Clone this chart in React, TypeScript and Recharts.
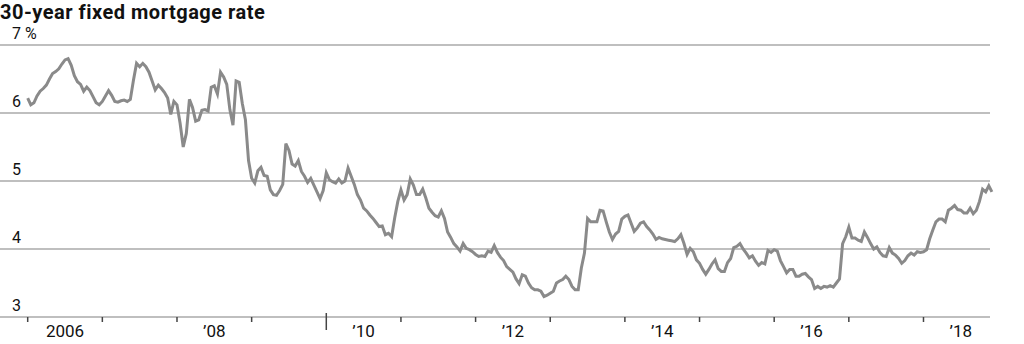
import { LineChart, Line, XAxis, YAxis, CartesianGrid } from "recharts";

// Freddie Mac 30-year fixed rate at two points per month
const years = [2006, 2007, 2008, 2009, 2010, 2011, 2012, 2013, 2014, 2015, 2016, 2017, 2018];

const rates2006 = [6.22, 6.12, 6.15, 6.25, 6.32, 6.36, 6.41, 6.5, 6.58, 6.61, 6.65, 6.72, 6.78, 6.8, 6.7, 6.55, 6.46, 6.42, 6.32, 6.38, 6.33, 6.24, 6.15, 6.12];
const rates2007 = [6.17, 6.25, 6.33, 6.26, 6.17, 6.16, 6.18, 6.19, 6.17, 6.2, 6.48, 6.73, 6.68, 6.73, 6.68, 6.6, 6.47, 6.34, 6.41, 6.36, 6.3, 6.22, 5.98, 6.17];
const rates2008 = [6.12, 5.85, 5.5, 5.7, 6.2, 6.08, 5.88, 5.9, 6.04, 6.05, 6.03, 6.38, 6.4, 6.28, 6.6, 6.53, 6.42, 6.05, 5.82, 6.47, 6.45, 6.14, 5.9, 5.3];
const rates2009 = [5.04, 4.97, 5.15, 5.2, 5.08, 5.07, 4.87, 4.8, 4.79, 4.86, 4.95, 5.55, 5.45, 5.25, 5.22, 5.3, 5.14, 5.07, 4.98, 5.04, 4.94, 4.84, 4.74, 4.86];
const rates2010 = [5.12, 5.02, 4.99, 4.97, 5.03, 4.97, 5.0, 5.19, 5.07, 4.95, 4.8, 4.72, 4.6, 4.56, 4.5, 4.45, 4.39, 4.33, 4.34, 4.21, 4.23, 4.18, 4.46, 4.7];
const rates2011 = [4.87, 4.72, 4.8, 5.03, 4.94, 4.8, 4.8, 4.88, 4.75, 4.6, 4.54, 4.49, 4.47, 4.56, 4.45, 4.25, 4.17, 4.08, 4.03, 3.97, 4.08, 4.01, 3.99, 3.96];
const rates2012 = [3.92, 3.89, 3.9, 3.89, 3.97, 3.95, 4.05, 3.95, 3.88, 3.83, 3.74, 3.7, 3.66, 3.56, 3.49, 3.62, 3.6, 3.5, 3.43, 3.4, 3.4, 3.38, 3.3, 3.32];
const rates2013 = [3.35, 3.38, 3.5, 3.53, 3.55, 3.6, 3.55, 3.45, 3.4, 3.4, 3.72, 3.94, 4.45, 4.4, 4.4, 4.4, 4.57, 4.56, 4.4, 4.25, 4.14, 4.22, 4.26, 4.44];
const rates2014 = [4.48, 4.5, 4.38, 4.26, 4.31, 4.38, 4.4, 4.33, 4.28, 4.22, 4.14, 4.17, 4.15, 4.14, 4.13, 4.12, 4.11, 4.15, 4.21, 4.08, 3.92, 4.01, 3.96, 3.84];
const rates2015 = [3.79, 3.7, 3.63, 3.7, 3.78, 3.84, 3.71, 3.67, 3.67, 3.8, 3.86, 4.02, 4.04, 4.08, 4.0, 3.94, 3.87, 3.9, 3.82, 3.76, 3.8, 3.78, 3.98, 3.95];
const rates2016 = [3.99, 3.97, 3.83, 3.74, 3.65, 3.7, 3.7, 3.6, 3.6, 3.63, 3.64, 3.59, 3.55, 3.42, 3.45, 3.42, 3.45, 3.44, 3.46, 3.44, 3.5, 3.56, 4.08, 4.18];
const rates2017 = [4.32, 4.16, 4.16, 4.13, 4.11, 4.25, 4.17, 4.08, 4.0, 4.03, 3.95, 3.9, 3.89, 4.02, 3.94, 3.91, 3.86, 3.79, 3.83, 3.9, 3.94, 3.91, 3.96, 3.95];
const rates2018 = [3.96, 3.99, 4.15, 4.28, 4.4, 4.44, 4.44, 4.4, 4.57, 4.6, 4.64, 4.58, 4.57, 4.53, 4.53, 4.6, 4.52, 4.57, 4.7, 4.88, 4.84, 4.93, 4.84];

const yearTicks = [2006, 2007, 2008, 2009, 2010, 2011, 2012, 2013, 2014, 2015, 2016, 2017, 2018];
const labelYears = [2006, 2008, 2010, 2012, 2014, 2016, 2018];
const labelTexts = ["2006", "\u201908", "\u201910", "\u201912", "\u201914", "\u201916", "\u201918"];
const rateTicks = [3, 4, 5, 6, 7];

const ratesByYear = [rates2006, rates2007, rates2008, rates2009, rates2010, rates2011, rates2012, rates2013, rates2014, rates2015, rates2016, rates2017, rates2018];

const data = years.flatMap((yr, k) =>
  ratesByYear[k].map((v, i) => ({ t: yr + i / 24, rate: v }))
);

const xTicks = [...yearTicks, ...labelYears.map((y) => y + 0.5)].sort((a, b) => a - b);

const font = "Roboto, 'Liberation Sans', sans-serif";

const XTick = ({ x, y, payload }: any) => {
  const v = payload.value;
  if (Number.isInteger(v)) {
    const long = v === 2010;
    return (
      <line
        x1={x}
        x2={x}
        y1={long ? y - 4 : y}
        y2={long ? y + 13 : y + 5}
        stroke="#444"
        strokeWidth={1.5}
      />
    );
  }
  const idx = labelYears.indexOf(v - 0.5);
  return (
    <text x={x} y={y + 20} textAnchor="middle" fontSize={17} fontFamily={font} fill="#111">
      {labelTexts[idx]}
    </text>
  );
};

const YTick = (props: any) => {
  const { y, payload } = props;
  return (
    <text x={12} y={y - 6} fontSize={16} fontFamily={font} fill="#111">
      {payload.value === 7 ? "7 %" : String(payload.value)}
    </text>
  );
};

const gridLine = (props: any) => (
  <line
    key={`g-${props.y1}`}
    x1={props.x1}
    x2={props.x1 + 990}
    y1={props.y1}
    y2={props.y2}
    stroke="#aaa"
    strokeWidth={1.5}
  />
);

export default function App() {
  return (
    <div
      style={{
        position: "absolute",
        left: 0,
        top: 0,
        width: 1024,
        height: 344,
        background: "#fff",
        overflow: "hidden",
      }}
    >
      <div
        style={{
          position: "absolute",
          left: 0,
          top: 0,
          fontFamily: font,
          fontWeight: 700,
          fontSize: 20,
          lineHeight: "normal",
          color: "#111",
          letterSpacing: 0.5,
          whiteSpace: "nowrap",
        }}
      >
        30-year fixed mortgage rate
      </div>
      <LineChart
        width={1024}
        height={344}
        data={data}
        margin={{ top: 45, right: 24, bottom: 0, left: -2 }}
      >
        <CartesianGrid vertical={false} horizontal={gridLine} />
        <XAxis
          dataKey="t"
          type="number"
          domain={[2005.629, 2019.025]}
          allowDataOverflow
          ticks={xTicks}
          interval={0}
          tick={<XTick />}
          tickSize={0}
          tickMargin={0}
          axisLine={false}
          tickLine={false}
          height={27}
        />
        <YAxis
          type="number"
          domain={[3, 7]}
          ticks={rateTicks}
          interval={0}
          tick={YTick}
          width={2}
          axisLine={false}
          tickLine={false}
        />
        <Line
          dataKey="rate"
          type="linear"
          stroke="#8a8a8a"
          strokeWidth={3}
          dot={false}
          isAnimationActive={false}
        />
      </LineChart>
    </div>
  );
}
